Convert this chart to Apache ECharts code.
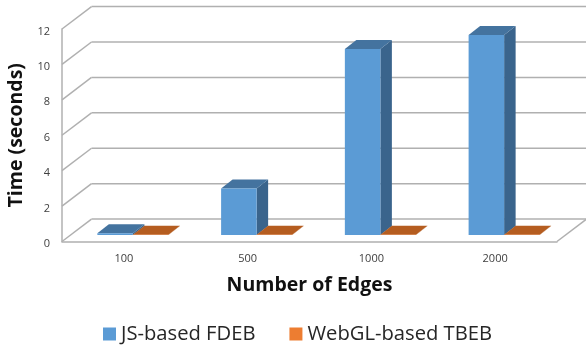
<!DOCTYPE html>
<html>
<head>
<meta charset="utf-8">
<style>html,body{margin:0;padding:0;background:#fff}#chart{width:586px;height:346px}</style>
<script src="https://cdn.jsdelivr.net/npm/echarts@6/dist/echarts.min.js"></script>
</head>
<body>
<div id="chart"></div>
<script>
const edgeCounts = ['100', '500', '1000', '2000'];
const fdebSeconds = [0.1, 2.63, 10.5, 11.3];
const tbebSeconds = [0.02, 0.02, 0.02, 0.02];
const timeTicks = [0, 2, 4, 6, 8, 10, 12];

// Pseudo-3D projection offsets, in pixels
const WALL_DX = 29.5, WALL_DY = -22.4;
const BASE_DX = 9, BASE_DY = -6.5;
const BAR_DX = 11.5, BAR_DY = -9;
const BAR_BAND_RATIO = 0.287;
const WALL_RIGHT = 586;

function poly(points, fill) {
  return { type: 'polygon', shape: { points }, style: { fill, stroke: null } };
}

// Draws one prism; side -1 sits left of the band centre, side 0 right of it.
function prismRenderer(side, frontColor, topColor, sideColor) {
  return function (params, api) {
    const idx = api.value(0);
    const w = api.size([1, 0])[0] * BAR_BAND_RATIO;
    const top = api.coord([idx, api.value(1)]);
    const base = api.coord([idx, 0]);
    const x0 = base[0] + BASE_DX + side * w, x1 = x0 + w;
    const yb = base[1] + BASE_DY, yt = top[1] + BASE_DY;
    return {
      type: 'group',
      children: [
        poly([[x1, yb], [x1 + BAR_DX, yb + BAR_DY], [x1 + BAR_DX, yt + BAR_DY], [x1, yt]], sideColor),
        poly([[x0, yt], [x1, yt], [x1 + BAR_DX, yt + BAR_DY], [x0 + BAR_DX, yt + BAR_DY]], topColor),
        poly([[x0, yb], [x1, yb], [x1, yt], [x0, yt]], frontColor)
      ]
    };
  };
}

// Back wall lines and the left wall diagonals for each value tick
function wallRenderer(params, api) {
  const v = api.value(0);
  const p = api.coord([0, v]);
  const leftX = params.coordSys.x;
  const style = { stroke: '#b0b0b0', lineWidth: 1.5, fill: null };
  const children = [
    { type: 'line', shape: { x1: leftX, y1: p[1], x2: leftX + WALL_DX, y2: p[1] + WALL_DY }, style },
    { type: 'line', shape: { x1: leftX + WALL_DX, y1: p[1] + WALL_DY, x2: WALL_RIGHT, y2: p[1] + WALL_DY }, style }
  ];
  if (v === 0) {
    const rightX = leftX + params.coordSys.width;
    children.push({ type: 'line', shape: { x1: rightX, y1: p[1], x2: rightX + WALL_DX, y2: p[1] + WALL_DY }, style });
  }
  return { type: 'group', children };
}

const chart = echarts.init(document.getElementById('chart'), null, { renderer: 'canvas' });
const fontFamily = '"Open Sans", "Noto Sans", sans-serif';
chart.setOption({
  animation: false,
  backgroundColor: '#fff',
  textStyle: { fontFamily },
  grid: { left: 62, top: 29, width: 495, height: 212.5, outerBoundsMode: 'none' },
  xAxis: {
    type: 'category',
    data: edgeCounts,
    name: 'Number of Edges',
    nameLocation: 'middle',
    nameGap: 34,
    nameTextStyle: { fontSize: 19.5, fontWeight: 'bold', color: '#111', fontFamily },
    axisLine: { lineStyle: { color: '#b0b0b0', width: 1.5 } },
    axisTick: { show: false },
    axisLabel: { fontSize: 11, color: '#404040', margin: 12, fontFamily },
    splitLine: { show: false }
  },
  yAxis: {
    type: 'value',
    min: 0,
    max: 12,
    interval: 2,
    name: 'Time (seconds)',
    nameLocation: 'middle',
    nameGap: 33,
    nameTextStyle: { fontSize: 19.5, fontWeight: 'bold', color: '#111', fontFamily },
    axisLine: { show: true, lineStyle: { color: '#b0b0b0', width: 1.5 } },
    axisTick: { show: false },
    axisLabel: {
      margin: 12,
      formatter: '{tick|{value}}',
      rich: { tick: { fontSize: 11, color: '#404040', padding: [5, 0, 0, 0], fontFamily } }
    },
    splitLine: { show: false }
  },
  legend: {
    show: true,
    left: 98,
    top: 319,
    itemWidth: 13,
    itemHeight: 13,
    itemGap: 34,
    icon: 'rect',
    data: ['JS-based FDEB', 'WebGL-based TBEB'],
    textStyle: { fontSize: 20.2, color: '#262626', fontFamily }
  },
  series: [
    {
      name: 'walls',
      type: 'custom',
      silent: true,
      clip: false,
      z: 1,
      encode: { y: 0 },
      data: timeTicks.map(t => [t]),
      renderItem: wallRenderer
    },
    {
      name: 'JS-based FDEB',
      type: 'custom',
      clip: false,
      z: 2,
      itemStyle: { color: '#5b9bd5' },
      encode: { x: 0, y: 1 },
      data: fdebSeconds.map((v, i) => [i, v]),
      renderItem: prismRenderer(-1, '#5b9bd5', '#44739f', '#3a648c')
    },
    {
      name: 'WebGL-based TBEB',
      type: 'custom',
      clip: false,
      z: 3,
      itemStyle: { color: '#ed7d31' },
      encode: { x: 0, y: 1 },
      data: tbebSeconds.map((v, i) => [i, v]),
      renderItem: prismRenderer(0, '#ed7d31', '#b55d20', '#a85519')
    }
  ]
});
</script>
</body>
</html>
